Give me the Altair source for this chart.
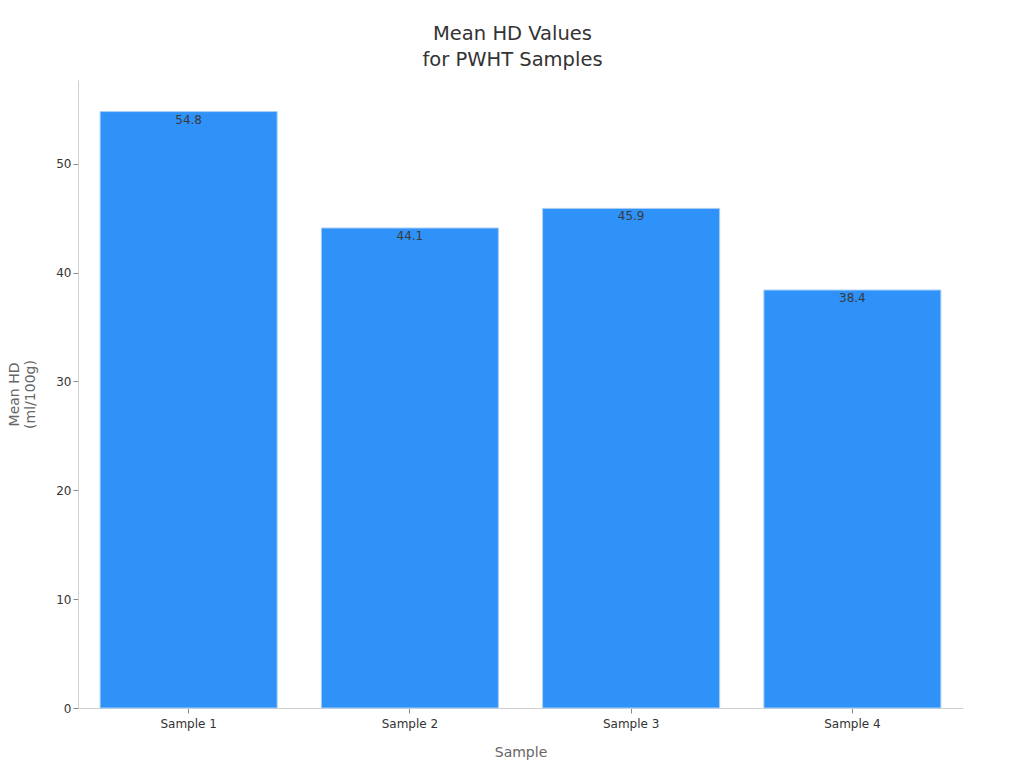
import altair as alt
import pandas as pd

samples = ["Sample 1", "Sample 2", "Sample 3", "Sample 4"]
mean_hd = [54.8, 44.1, 45.9, 38.4]

df = pd.DataFrame({"Sample": samples, "Mean HD": mean_hd})

x = alt.X("Sample:N", sort=samples, title="Sample",
          scale=alt.Scale(paddingInner=0.2, paddingOuter=0.1),
          axis=alt.Axis(labelAngle=0, titlePadding=16, labelPadding=5))
y = alt.Y("Mean HD:Q", title=["Mean HD", "(ml/100g)"],
          scale=alt.Scale(domain=[0, 57.7], nice=False),
          axis=alt.Axis(values=[0, 10, 20, 30, 40, 50], grid=False, titlePadding=18,
                        titleLineHeight=16))

bars = alt.Chart(df).mark_bar(color="#2e92f8", stroke="#a8cdf5", strokeWidth=1).encode(x=x, y=y)
labels = alt.Chart(df).mark_text(baseline="top", dy=3, fontSize=12, color="#3a3a3a",
                                 font="DejaVu Sans").encode(
    x=x, y=y, text=alt.Text("Mean HD:Q", format=".1f"))

chart = (bars + labels).properties(
    width=885, height=628,
    title=alt.TitleParams(["Mean HD Values", "for PWHT Samples"], fontSize=19.5,
                          fontWeight="normal", color="#333333", font="DejaVu Sans",
                          anchor="middle", offset=10, lineHeight=26, dx=-8),
    autosize=alt.AutoSizeParams(type="none"),
    padding={"left": 70, "top": 72, "right": 53, "bottom": 52},
    background="white",
).configure_view(stroke=None).configure_axis(
    labelFont="DejaVu Sans", titleFont="DejaVu Sans", labelFontSize=12,
    labelColor="#333333", titleColor="#666666", titleFontSize=14, titleFontWeight="normal",
    domainColor="#d0d0d0", tickColor="#888888", tickSize=5,
)

chart.save("out.html", embed_options={"renderer": "svg", "actions": False})
